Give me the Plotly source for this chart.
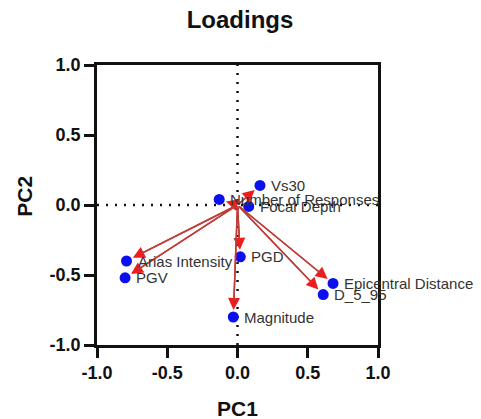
import plotly.graph_objects as go

labels = ["Vs30", "Number of Responses", "Focal Depth", "PGD", "Arias Intensity",
          "PGV", "Epicentral Distance", "D_5_95", "Magnitude"]
pc1 = [0.16, -0.13, 0.08, 0.02, -0.79, -0.80, 0.68, 0.61, -0.03]
pc2 = [0.14, 0.04, -0.01, -0.37, -0.40, -0.52, -0.56, -0.64, -0.80]

x_ticks = [-1.0, -0.5, 0.0, 0.5, 1.0]
y_ticks = [-1.0, -0.5, 0.0, 0.5, 1.0]
tick_text = ["-1.0", "-0.5", "0.0", "0.5", "1.0"]

FONT = "Liberation Sans, Arial, sans-serif"

fig = go.Figure()
fig.add_trace(go.Scatter(
    x=pc1, y=pc2, mode="markers",
    marker=dict(color="#0a10ee", size=11, line=dict(width=0)),
    hoverinfo="text", text=labels, showlegend=False, cliponaxis=False))

annotations = []
# arrows: red head + line
for x, y in zip(pc1, pc2):
    annotations.append(dict(
        x=x, y=y, ax=0, ay=0, xref="x", yref="y", axref="x", ayref="y",
        text="", showarrow=True, arrowhead=2, arrowsize=1.6, arrowwidth=1.5,
        arrowcolor="#ee1c1c", standoff=7))
for x, y in zip(pc1, pc2):
    annotations.append(dict(
        x=x, y=y, ax=0, ay=0, xref="x", yref="y", axref="x", ayref="y",
        text="", showarrow=True, arrowhead=0, arrowwidth=1.5,
        arrowcolor="#b8403a", standoff=16))
# labels
for x, y, t in zip(pc1, pc2, labels):
    annotations.append(dict(
        x=x, y=y, xref="x", yref="y", text=t, showarrow=False,
        xanchor="left", yanchor="middle", xshift=9,
        font=dict(family=FONT, size=15, color="#333333")))
# axis titles
annotations.append(dict(x=0.5, y=-0.225, xref="paper", yref="paper", text="<b>PC1</b>",
                        showarrow=False, xanchor="center", yanchor="middle",
                        font=dict(family=FONT, size=21, color="#111111")))
annotations.append(dict(x=-0.256, y=0.53, xref="paper", yref="paper", text="<b>PC2</b>",
                        showarrow=False, xanchor="center", yanchor="middle", textangle=-90,
                        font=dict(family=FONT, size=21, color="#111111")))

shapes = [
    dict(type="line", x0=-1, x1=1, y0=0, y1=0, xref="x", yref="y",
         line=dict(color="#111111", width=2.5, dash="2px,7px"), layer="below"),
    dict(type="line", x0=0, x1=0, y0=-1, y1=1, xref="x", yref="y",
         line=dict(color="#111111", width=2.5, dash="2px,7px"), layer="below"),
]

axis_common = dict(
    showgrid=False, zeroline=False, showline=True, linecolor="#111111", linewidth=2.5,
    mirror=True, ticks="outside", ticklen=10, tickwidth=2.5, tickcolor="#111111",
    tickfont=dict(family=FONT, size=18, color="#111111"),
)

fig.update_layout(
    width=481, height=419,
    margin=dict(l=97, r=103, t=65, b=74),
    paper_bgcolor="white", plot_bgcolor="white",
    title=dict(text="<b>Loadings</b>", x=0.499, y=1 - 20 / 419, xref="container",
               yref="container", xanchor="center", yanchor="middle",
               font=dict(family=FONT, size=24, color="#111111")),
    xaxis=dict(range=[-1, 1], tickvals=x_ticks,
               ticktext=["<b>%s</b>" % t for t in tick_text], **axis_common),
    yaxis=dict(range=[-1, 1], tickvals=y_ticks,
               ticktext=["<b>%s</b>" % t for t in tick_text], **axis_common),
    annotations=annotations, shapes=shapes,
)

fig.write_html("out.html")
